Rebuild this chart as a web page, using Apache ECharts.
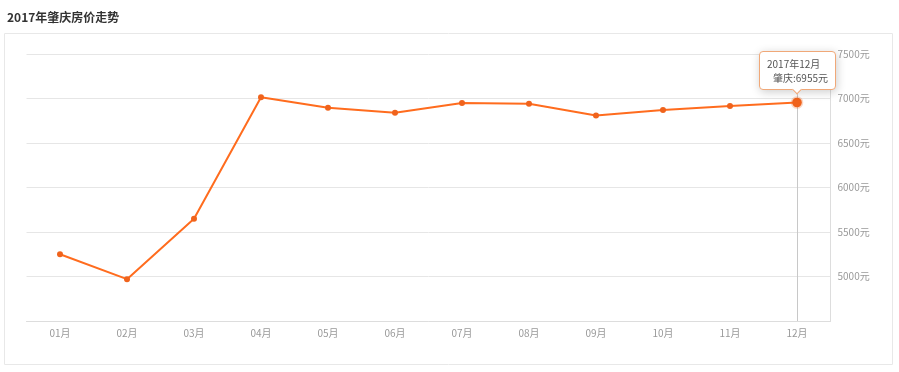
<!DOCTYPE html>
<html><head><meta charset="utf-8">
<script src="https://cdn.jsdelivr.net/npm/echarts@6/dist/echarts.min.js"></script>
<style>html,body{margin:0;padding:0;background:#fff}#c{width:899px;height:372px}</style>
</head><body><div id="c"></div>
<script>
var titleText = '2017年肇庆房价走势';
var seriesName = '肇庆';
var yearText = '2017年';
var months = ['01月','02月','03月','04月','05月','06月','07月','08月','09月','10月','11月','12月'];
var prices = [5250, 4970, 5650, 7015, 6895, 6840, 6950, 6940, 6810, 6870, 6915, 6955];
var yMin = 4500, yMax = 7500, yStep = 500;
var tipIndex = 11;

var chart = echarts.init(document.getElementById('c'), null, {renderer:'canvas'});
chart.setOption({
  animation: false,
  textStyle: {fontFamily: '"Noto Sans CJK SC", "Noto Sans", sans-serif'},
  title: {text: titleText, left: 2, top: 6, textStyle: {fontSize: 12, fontWeight: 'bold', color: '#333'}},
  graphic: [{type:'rect', shape:{x:4.5, y:33.5, width:888, height:331}, style:{fill:'none', stroke:'#e8e8e8', lineWidth:1}, silent:true, z:-1}],
  grid: {left: 26.5, right: 68.5, top: 54, bottom: 51},
  tooltip: {
    trigger: 'item', position: 'top', alwaysShowContent: true, transitionDuration: 0,
    backgroundColor: '#fff', borderColor: '#f0a878', borderWidth: 1, padding: [5, 7],
    textStyle: {fontSize: 10, color: '#555'},
    formatter: function(p){ return '<div style="line-height:13.5px">' + yearText + p.name + '<br/><span style="padding-left:6px">' + p.seriesName + ':' + p.value + '元</span></div>'; }
  },
  xAxis: {
    type: 'category', data: months, boundaryGap: true,
    axisLine: {lineStyle: {color: '#ddd'}},
    axisTick: {alignWithLabel: true, length: 3, lineStyle: {color: '#eee'}},
    axisLabel: {color: '#999', fontSize: 10, margin: 7},
    axisPointer: {show: true, value: tipIndex, status: 'show', snap: true, triggerTooltip: false, type: 'line', z: 1,
      label: {show: false}, lineStyle: {color: '#c8c8c8', width: 1, type: 'solid'}}
  },
  yAxis: {
    type: 'value', position: 'right', min: yMin, max: yMax, interval: yStep,
    axisLine: {show: true, lineStyle: {color: '#ddd'}},
    axisTick: {show: false},
    splitLine: {lineStyle: {color: '#e6e6e6'}},
    axisLabel: {color: '#999', fontSize: 10, margin: 7, showMinLabel: false, formatter: function(v){ return v + '元'; }}
  },
  series: [{
    name: seriesName, type: 'line', data: prices, z: 5,
    symbol: 'circle', symbolSize: 6,
    lineStyle: {color: '#f0631c', width: 2},
    itemStyle: {color: '#f0631c'},
    emphasis: {scale: 1.6, itemStyle: {color: '#f0631c', borderColor: 'rgba(240,99,28,0.25)', borderWidth: 3}}
  }]
});
chart.dispatchAction({type: 'highlight', seriesIndex: 0, dataIndex: tipIndex});
chart.dispatchAction({type: 'showTip', seriesIndex: 0, dataIndex: tipIndex});
</script></body></html>
